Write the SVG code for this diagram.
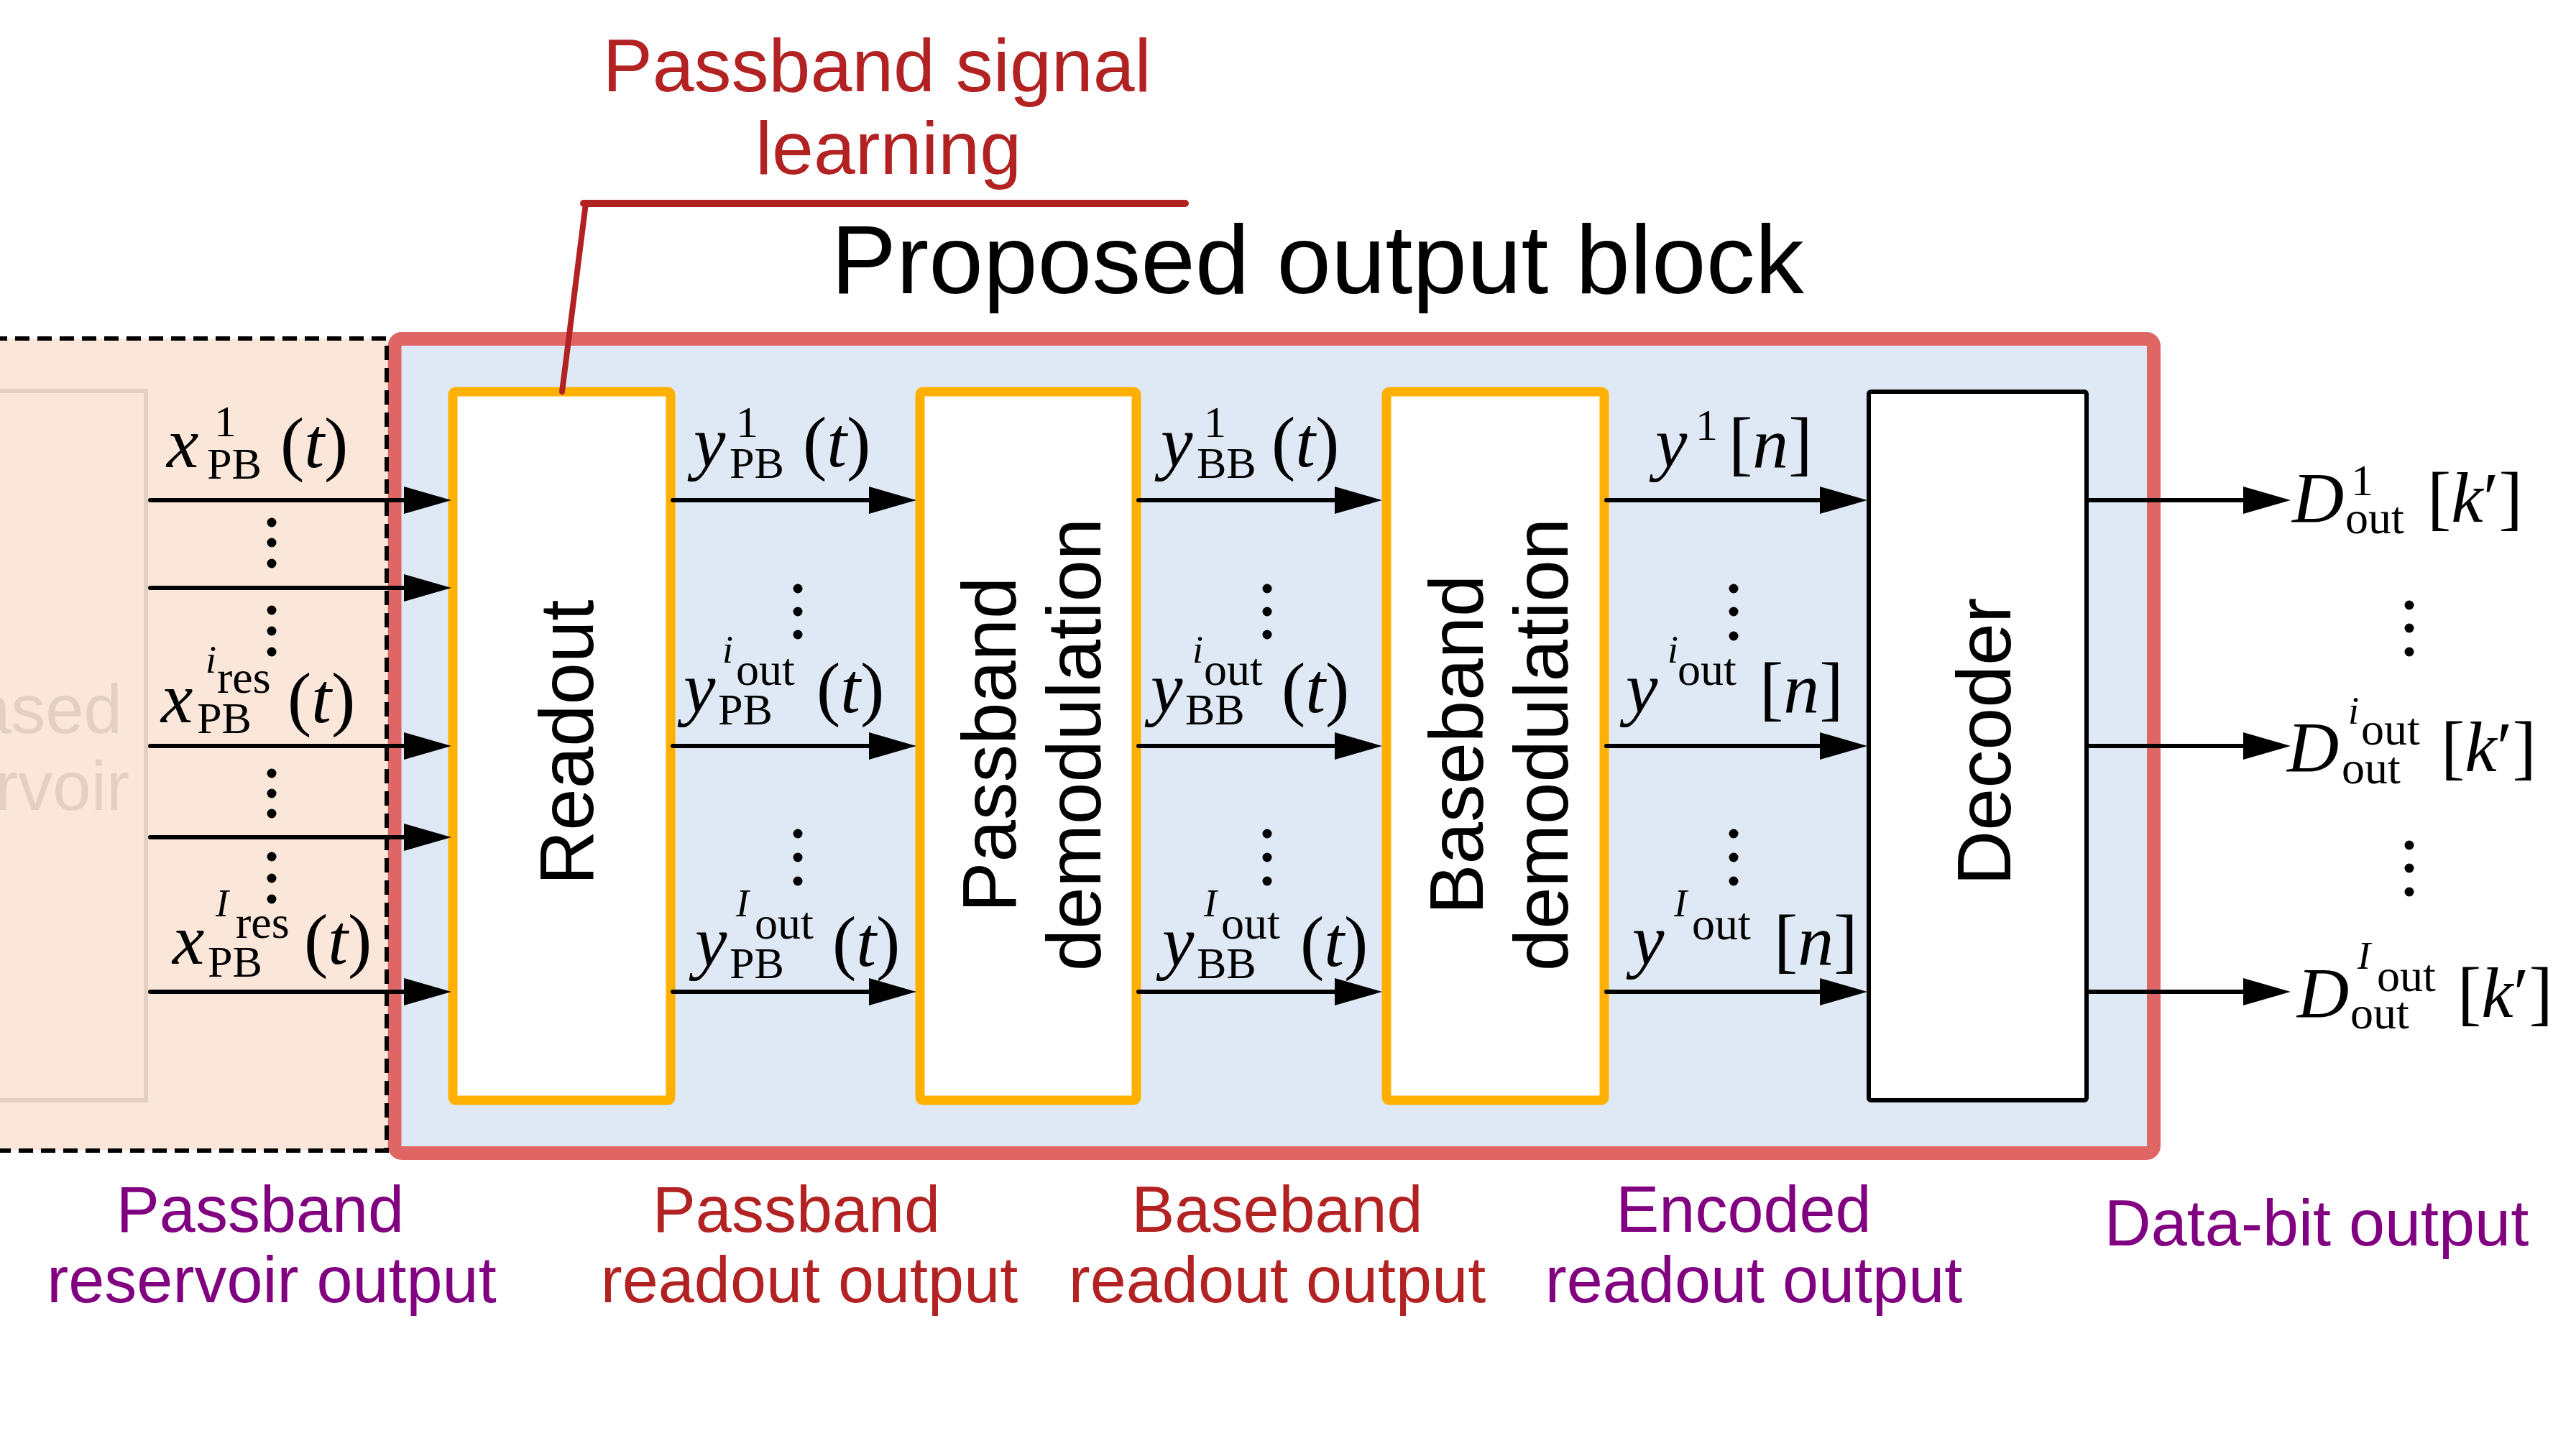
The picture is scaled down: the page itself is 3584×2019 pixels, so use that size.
<svg xmlns="http://www.w3.org/2000/svg" width="3584" height="2019" viewBox="0 0 3584 2019">
<style>
.sans{font-family:"Liberation Sans",Arial,sans-serif}
.mi{font-family:"Liberation Serif","Times New Roman",serif;font-style:italic}
.mr{font-family:"Liberation Serif","Times New Roman",serif;font-style:normal}
.big{font-size:100px}
.sub{font-size:62px}
.ss{font-size:64px}
.si{font-size:54px}
.box{fill:#ffffff;stroke:#ffb000;stroke-width:13}
.conn{stroke:#000;stroke-width:6;stroke-linecap:round;fill:none}
.dot{fill:#000}
.lbl{font-size:90px;text-anchor:middle}
.purple{fill:#800080}
.fire{fill:#b22222}
.vt{font-size:105px;text-anchor:middle;fill:#000}
</style>
<defs>
<marker id="ah" markerUnits="userSpaceOnUse" markerWidth="66" markerHeight="40" viewBox="0 0 66 40" refX="51" refY="20" orient="auto">
<path d="M0,1 L66,20 L0,39 z" fill="#000"/>
</marker>
</defs>
<rect width="3584" height="2019" fill="#ffffff"/>

<g id="reservoir">
<rect x="-20" y="471" width="558" height="1130" fill="#fbe7d9"/>
<rect x="-20" y="544" width="223" height="987" fill="none" stroke="#e3d0c3" stroke-width="6"/>
<text class="sans" x="170" y="1020" font-size="96" text-anchor="end" fill="#e3d0c3">ased</text>
<text class="sans" x="180" y="1127" font-size="96" text-anchor="end" fill="#e3d0c3">rvoir</text>
</g>

<g id="output-block">
<rect x="549" y="471.5" width="2447.5" height="1133" rx="10" fill="#dee9f5" stroke="#e06666" stroke-width="19"/>
</g>

<g id="reservoir-border">
<path d="M-10,471 L538,471 L538,1601 L-10,1601" fill="none" stroke="#000" stroke-width="6" stroke-dasharray="20 11"/>
</g>

<g id="readout">
<rect class="box" x="630" y="545" width="303" height="986" rx="4"/>
<text class="sans vt" transform="translate(825,1033) rotate(-90)">Readout</text>
</g>

<g id="passband-demod">
<rect class="box" x="1280" y="545" width="301" height="986" rx="4"/>
<text class="sans vt" transform="translate(1413,1036) rotate(-90)">Passband</text>
<text class="sans vt" transform="translate(1531,1036) rotate(-90)">demodulation</text>
</g>

<g id="baseband-demod">
<rect class="box" x="1929" y="545" width="303" height="986" rx="4"/>
<text class="sans vt" transform="translate(2063,1036) rotate(-90)">Baseband</text>
<text class="sans vt" transform="translate(2181,1036) rotate(-90)">demodulation</text>
</g>

<g id="decoder">
<rect x="2600" y="545" width="303" height="986" rx="3" fill="#ffffff" stroke="#000" stroke-width="6"/>
<text class="sans" transform="translate(2797,1032) rotate(-90)" font-size="106" text-anchor="middle">Decoder</text>
</g>

<g id="connectors">
<line class="conn" x1="209" y1="696" x2="613" y2="696" marker-end="url(#ah)"/>
<line class="conn" x1="209" y1="818" x2="613" y2="818" marker-end="url(#ah)"/>
<line class="conn" x1="209" y1="1038" x2="613" y2="1038" marker-end="url(#ah)"/>
<line class="conn" x1="209" y1="1165" x2="613" y2="1165" marker-end="url(#ah)"/>
<line class="conn" x1="209" y1="1380" x2="613" y2="1380" marker-end="url(#ah)"/>
<line class="conn" x1="936" y1="696" x2="1260" y2="696" marker-end="url(#ah)"/>
<line class="conn" x1="936" y1="1038" x2="1260" y2="1038" marker-end="url(#ah)"/>
<line class="conn" x1="936" y1="1380" x2="1260" y2="1380" marker-end="url(#ah)"/>
<line class="conn" x1="1584" y1="696" x2="1908" y2="696" marker-end="url(#ah)"/>
<line class="conn" x1="1584" y1="1038" x2="1908" y2="1038" marker-end="url(#ah)"/>
<line class="conn" x1="1584" y1="1380" x2="1908" y2="1380" marker-end="url(#ah)"/>
<line class="conn" x1="2235" y1="696" x2="2583" y2="696" marker-end="url(#ah)"/>
<line class="conn" x1="2235" y1="1038" x2="2583" y2="1038" marker-end="url(#ah)"/>
<line class="conn" x1="2235" y1="1380" x2="2583" y2="1380" marker-end="url(#ah)"/>
<line class="conn" x1="2906" y1="696" x2="3172" y2="696" marker-end="url(#ah)"/>
<line class="conn" x1="2906" y1="1038" x2="3172" y2="1038" marker-end="url(#ah)"/>
<line class="conn" x1="2906" y1="1380" x2="3172" y2="1380" marker-end="url(#ah)"/>
<line x1="1649" y1="283" x2="812" y2="283" stroke="#b22222" stroke-width="10" stroke-linecap="round"/>
<line x1="815" y1="283" x2="782" y2="545" stroke="#b22222" stroke-width="8" stroke-linecap="round"/>
</g>

<g id="ellipses">
<circle class="dot" cx="378" cy="727" r="6.5"/><circle class="dot" cx="378" cy="755" r="6.5"/><circle class="dot" cx="378" cy="784" r="6.5"/>
<circle class="dot" cx="378" cy="849" r="6.5"/><circle class="dot" cx="378" cy="878" r="6.5"/><circle class="dot" cx="378" cy="907" r="6.5"/>
<circle class="dot" cx="378" cy="1076" r="6.5"/><circle class="dot" cx="378" cy="1104" r="6.5"/><circle class="dot" cx="378" cy="1132" r="6.5"/>
<circle class="dot" cx="378" cy="1192" r="6.5"/><circle class="dot" cx="378" cy="1222" r="6.5"/><circle class="dot" cx="378" cy="1251" r="6.5"/>
<circle class="dot" cx="1110" cy="819" r="6.5"/><circle class="dot" cx="1110" cy="851" r="6.5"/><circle class="dot" cx="1110" cy="883" r="6.5"/>
<circle class="dot" cx="1110" cy="1160" r="6.5"/><circle class="dot" cx="1110" cy="1193" r="6.5"/><circle class="dot" cx="1110" cy="1226" r="6.5"/>
<circle class="dot" cx="1763" cy="819" r="6.5"/><circle class="dot" cx="1763" cy="851" r="6.5"/><circle class="dot" cx="1763" cy="883" r="6.5"/>
<circle class="dot" cx="1763" cy="1160" r="6.5"/><circle class="dot" cx="1763" cy="1193" r="6.5"/><circle class="dot" cx="1763" cy="1226" r="6.5"/>
<circle class="dot" cx="2412" cy="819" r="6.5"/><circle class="dot" cx="2412" cy="851" r="6.5"/><circle class="dot" cx="2412" cy="885" r="6.5"/>
<circle class="dot" cx="2412" cy="1160" r="6.5"/><circle class="dot" cx="2412" cy="1193" r="6.5"/><circle class="dot" cx="2412" cy="1226" r="6.5"/>
<circle class="dot" cx="3352" cy="842" r="6.5"/><circle class="dot" cx="3352" cy="874" r="6.5"/><circle class="dot" cx="3352" cy="907" r="6.5"/>
<circle class="dot" cx="3352" cy="1176" r="6.5"/><circle class="dot" cx="3352" cy="1208" r="6.5"/><circle class="dot" cx="3352" cy="1241" r="6.5"/>
</g>

<g id="math-labels" fill="#000">
<text class="mi big" x="232" y="650">x</text>
<text class="mr sub" x="298" y="607">1</text>
<text class="mr sub" x="288" y="666">PB</text>
<text class="mr big" x="390" y="650">(<tspan class="mi">t</tspan>)</text>

<text class="mi big" x="224" y="1005">x</text>
<text class="mr sub" x="274" y="1020">PB</text>
<text class="mi si" x="286" y="936">i</text>
<text class="mr ss" x="302" y="964">res</text>
<text class="mr big" x="400" y="1005">(<tspan class="mi">t</tspan>)</text>

<text class="mi big" x="240" y="1341">x</text>
<text class="mr sub" x="289" y="1359">PB</text>
<text class="mi si" x="300" y="1275">I</text>
<text class="mr ss" x="328" y="1305">res</text>
<text class="mr big" x="423" y="1341">(<tspan class="mi">t</tspan>)</text>

<text class="mi big" x="965" y="649">y</text>
<text class="mr sub" x="1024" y="608">1</text>
<text class="mr sub" x="1015" y="665">PB</text>
<text class="mr big" x="1117" y="649">(<tspan class="mi">t</tspan>)</text>

<text class="mi big" x="951" y="991">y</text>
<text class="mr sub" x="999" y="1008">PB</text>
<text class="mi si" x="1005" y="922">i</text>
<text class="mr ss" x="1024" y="953">out</text>
<text class="mr big" x="1136" y="991">(<tspan class="mi">t</tspan>)</text>

<text class="mi big" x="967" y="1344">y</text>
<text class="mr sub" x="1015" y="1361">PB</text>
<text class="mi si" x="1024" y="1275">I</text>
<text class="mr ss" x="1050" y="1306">out</text>
<text class="mr big" x="1158" y="1344">(<tspan class="mi">t</tspan>)</text>

<text class="mi big" x="1615" y="649">y</text>
<text class="mr sub" x="1675" y="608">1</text>
<text class="mr sub" x="1665" y="665">BB</text>
<text class="mr big" x="1769" y="649">(<tspan class="mi">t</tspan>)</text>

<text class="mi big" x="1601" y="991">y</text>
<text class="mr sub" x="1649" y="1008">BB</text>
<text class="mi si" x="1659" y="922">i</text>
<text class="mr ss" x="1675" y="953">out</text>
<text class="mr big" x="1783" y="991">(<tspan class="mi">t</tspan>)</text>

<text class="mi big" x="1617" y="1344">y</text>
<text class="mr sub" x="1665" y="1361">BB</text>
<text class="mi si" x="1675" y="1275">I</text>
<text class="mr ss" x="1699" y="1306">out</text>
<text class="mr big" x="1809" y="1344">(<tspan class="mi">t</tspan>)</text>

<text class="mi big" x="2303" y="650">y</text>
<text class="mr sub" x="2359" y="612">1</text>
<text class="mr big" x="2405" y="650">[<tspan class="mi">n</tspan>]</text>

<text class="mi big" x="2262" y="991">y</text>
<text class="mi si" x="2320" y="922">i</text>
<text class="mr ss" x="2334" y="953">out</text>
<text class="mr big" x="2448" y="991">[<tspan class="mi">n</tspan>]</text>

<text class="mi big" x="2271" y="1342">y</text>
<text class="mi si" x="2329" y="1275">I</text>
<text class="mr ss" x="2354" y="1307">out</text>
<text class="mr big" x="2468" y="1342">[<tspan class="mi">n</tspan>]</text>

<text class="mi big" x="3189" y="726">D</text>
<text class="mr sub" x="3271" y="689">1</text>
<text class="mr ss" x="3263" y="742">out</text>
<text class="mr big" x="3377" y="726">[<tspan class="mi">k</tspan>′]</text>

<text class="mi big" x="3182" y="1073">D</text>
<text class="mi si" x="3267" y="1007">i</text>
<text class="mr ss" x="3285" y="1036">out</text>
<text class="mr ss" x="3258" y="1090">out</text>
<text class="mr big" x="3396" y="1073">[<tspan class="mi">k</tspan>′]</text>

<text class="mi big" x="3196" y="1415">D</text>
<text class="mi si" x="3280" y="1348">I</text>
<text class="mr ss" x="3307" y="1379">out</text>
<text class="mr ss" x="3270" y="1431">out</text>
<text class="mr big" x="3419" y="1415">[<tspan class="mi">k</tspan>′]</text>
</g>

<g id="titles">
<text class="sans" x="1833" y="408" font-size="136" text-anchor="middle" fill="#000">Proposed output block</text>
<text class="sans fire" x="1220" y="127" font-size="104" text-anchor="middle">Passband signal</text>
<text class="sans fire" x="1236" y="242" font-size="104" text-anchor="middle">learning</text>
</g>

<g id="stage-labels">
<text class="sans lbl purple" x="362" y="1714">Passband</text>
<text class="sans lbl purple" x="378" y="1812">reservoir output</text>
<text class="sans lbl fire" x="1108" y="1714">Passband</text>
<text class="sans lbl fire" x="1126" y="1812">readout output</text>
<text class="sans lbl fire" x="1777" y="1714">Baseband</text>
<text class="sans lbl fire" x="1777" y="1812">readout output</text>
<text class="sans lbl purple" x="2426" y="1714">Encoded</text>
<text class="sans lbl purple" x="2440" y="1812">readout output</text>
<text class="sans lbl purple" x="3223" y="1733">Data-bit output</text>
</g>
</svg>
